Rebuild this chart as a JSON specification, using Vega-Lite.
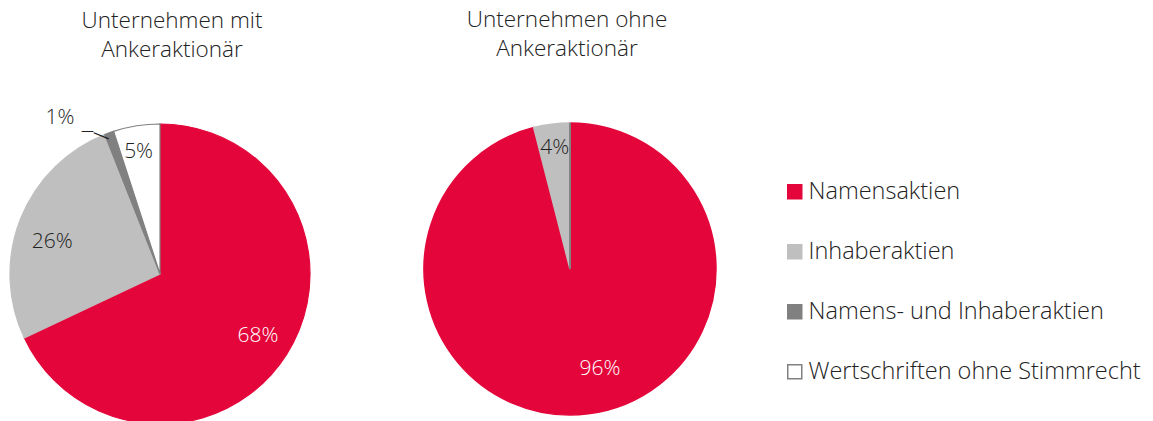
{
  "$schema": "https://vega.github.io/schema/vega-lite/v6.json",
  "padding": {"left": 7, "top": 8, "right": 0, "bottom": 0},
  "background": "white",
  "datasets": {
    "pies": [
      {"gruppe": "mit", "kategorie": "Namensaktien", "rang": 1, "anteil": 68, "label": "68%"},
      {"gruppe": "mit", "kategorie": "Inhaberaktien", "rang": 2, "anteil": 26, "label": "26%"},
      {"gruppe": "mit", "kategorie": "Namens- und Inhaberaktien", "rang": 3, "anteil": 1, "label": "1%"},
      {"gruppe": "mit", "kategorie": "Wertschriften ohne Stimmrecht", "rang": 4, "anteil": 5, "label": "5%"},
      {"gruppe": "ohne", "kategorie": "Namensaktien", "rang": 1, "anteil": 96, "label": "96%"},
      {"gruppe": "ohne", "kategorie": "Inhaberaktien", "rang": 2, "anteil": 4, "label": "4%"},
      {"gruppe": "ohne", "kategorie": "Namens- und Inhaberaktien", "rang": 3, "anteil": 0, "label": "0%"},
      {"gruppe": "ohne", "kategorie": "Wertschriften ohne Stimmrecht", "rang": 4, "anteil": 0, "label": "0%"}
    ]
  },
  "spacing": 107,
  "hconcat": [
    {
      "width": 300,
      "height": 300,
      "title": {"text": ["Unternehmen mit", "Ankeraktionär"], "dx": 12, "offset": 45},
      "data": {"name": "pies"},
      "transform": [{"filter": "datum.gruppe === 'mit'"}],
      "layer": [
        {
          "mark": {"type": "arc", "radius": 150, "strokeWidth": 1.2},
          "encoding": {
            "theta": {"field": "anteil", "type": "quantitative", "stack": true},
            "order": {"field": "rang", "type": "quantitative"},
            "color": {"field": "kategorie", "type": "nominal", "title": null,
              "scale": {"domain": ["Namensaktien", "Inhaberaktien", "Namens- und Inhaberaktien", "Wertschriften ohne Stimmrecht"],
                        "range": ["#E4063B", "#BFBFBF", "#808080", "#FFFFFF"]}},
            "stroke": {"field": "kategorie", "type": "nominal", "title": null,
              "scale": {"domain": ["Namensaktien", "Inhaberaktien", "Namens- und Inhaberaktien", "Wertschriften ohne Stimmrecht"],
                        "range": ["#E4063B", "#BFBFBF", "#808080", "#808080"]}}
          }
        },
        {
          "mark": {"type": "text", "radius": 116, "fontSize": 21, "font": "Open Sans", "fontWeight": 300},
          "encoding": {
            "theta": {"field": "anteil", "type": "quantitative", "stack": true},
            "order": {"field": "rang", "type": "quantitative"},
            "color": {"value": "#FFFFFF"},
            "text": {"condition": {"test": "datum.rang === 1", "field": "label", "type": "nominal"}, "value": ""}
          }
        },
        {
          "mark": {"type": "text", "radius": 116, "dy": 11, "fontSize": 21, "font": "Open Sans", "fontWeight": 300},
          "encoding": {
            "theta": {"field": "anteil", "type": "quantitative", "stack": true},
            "order": {"field": "rang", "type": "quantitative"},
            "color": {"value": "#222222"},
            "text": {"condition": {"test": "datum.rang === 2", "field": "label", "type": "nominal"}, "value": ""}
          }
        },
        {
          "mark": {"type": "text", "radius": 124, "dx": -2, "fontSize": 21, "font": "Open Sans", "fontWeight": 300},
          "encoding": {
            "theta": {"field": "anteil", "type": "quantitative", "stack": true},
            "order": {"field": "rang", "type": "quantitative"},
            "color": {"value": "#222222"},
            "text": {"condition": {"test": "datum.rang === 4", "field": "label", "type": "nominal"}, "value": ""}
          }
        },
        {
          "transform": [
            {"stack": "anteil", "groupby": [], "sort": [{"field": "rang"}], "as": ["t0", "t1"]},
            {"filter": "datum.rang === 3"}
          ],
          "encoding": {
            "theta": {"field": "t0", "type": "quantitative", "stack": null},
            "color": {"value": "#222222"}
          },
          "layer": [
            {
              "mark": {"type": "text", "radius": 185, "dx": -32, "dy": 16, "fontSize": 21, "font": "Open Sans", "fontWeight": 300},
              "encoding": {"text": {"field": "label", "type": "nominal"}}
            },
            {
              "mark": {"type": "text", "text": "—", "radius": 185, "dx": -4.5, "dy": 29.2, "fontSize": 13, "font": "DejaVu Sans"}
            },
            {
              "mark": {"type": "text", "text": "—", "radius": 185, "angle": 22, "dx": 21.2, "dy": 27.8, "fontSize": 18, "font": "DejaVu Sans"}
            }
          ]
        }
      ]
    },
    {
      "width": 300,
      "height": 290,
      "title": {"text": ["Unternehmen ohne", "Ankeraktionär"], "dx": -3, "offset": 60},
      "data": {"name": "pies"},
      "transform": [{"filter": "datum.gruppe === 'ohne'"}],
      "encoding": {
        "theta": {"field": "anteil", "type": "quantitative", "stack": true},
        "order": {"field": "rang", "type": "quantitative"}
      },
      "layer": [
        {
          "mark": {"type": "arc", "radius": 146, "strokeWidth": 1.5},
          "encoding": {
            "color": {"field": "kategorie", "type": "nominal", "title": null},
            "stroke": {"field": "kategorie", "type": "nominal", "title": null}
          }
        },
        {
          "mark": {"type": "text", "radius": 104, "dx": 17, "dy": -3, "fontSize": 21, "font": "Open Sans", "fontWeight": 300},
          "encoding": {
            "color": {"value": "#FFFFFF"},
            "text": {"condition": {"test": "datum.rang === 1", "field": "label", "type": "nominal"}, "value": ""}
          }
        },
        {
          "mark": {"type": "text", "radius": 122, "fontSize": 21, "font": "Open Sans", "fontWeight": 300},
          "encoding": {
            "color": {"value": "#222222"},
            "text": {"condition": {"test": "datum.rang === 2", "field": "label", "type": "nominal"}, "value": ""}
          }
        }
      ]
    }
  ],
  "resolve": {"scale": {"color": "shared", "stroke": "shared"}},
  "config": {
    "view": {"stroke": null},
    "title": {"fontSize": 22.5, "font": "Open Sans", "fontWeight": 300, "color": "#222222", "lineHeight": 29, "anchor": "middle"},
    "legend": {
      "orient": "none",
      "legendX": 773,
      "legendY": 56,
      "symbolType": "square",
      "symbolSize": 196,
      "symbolStrokeWidth": 1.5,
      "labelFontSize": 23.5,
      "labelFont": "Open Sans",
      "labelFontWeight": 300,
      "labelColor": "#222222",
      "labelOffset": 2,
      "labelLimit": 400,
      "rowPadding": 35,
      "padding": 0
    }
  }
}
